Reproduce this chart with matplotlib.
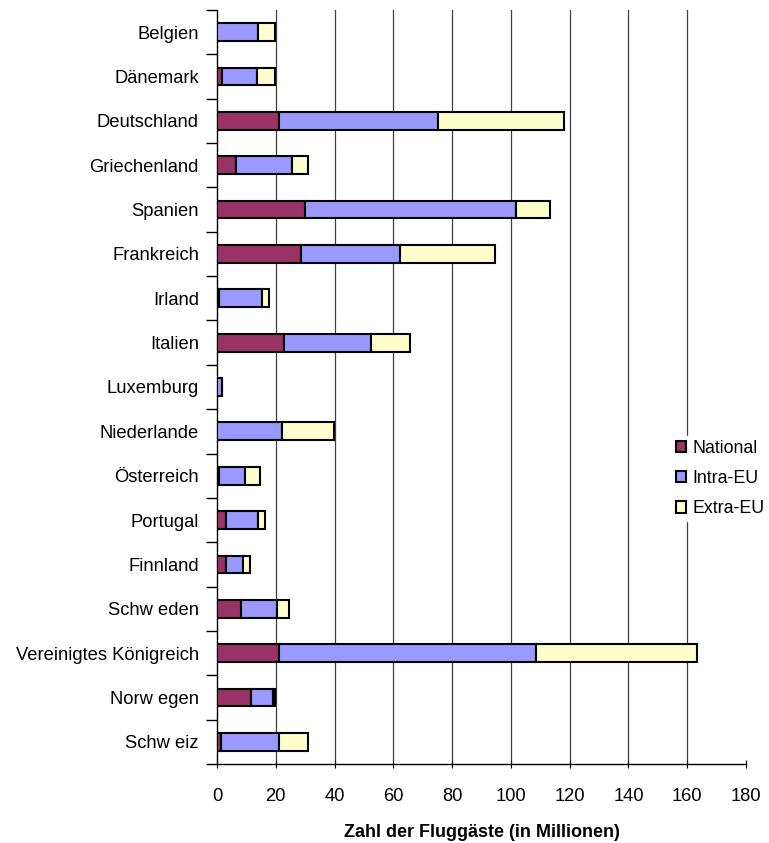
import matplotlib
matplotlib.use("Agg")
import matplotlib.pyplot as plt
import numpy as np

countries = ["Belgien", "Dänemark", "Deutschland", "Griechenland", "Spanien",
             "Frankreich", "Irland", "Italien", "Luxemburg", "Niederlande",
             "Österreich", "Portugal", "Finnland", "Schw eden",
             "Vereinigtes Königreich", "Norw egen", "Schw eiz"]
national = [0.0, 1.8, 21.1, 6.5, 29.8, 28.5, 0.7, 22.7, 0.0, 0.0,
            0.7, 3.1, 3.1, 8.3, 21.0, 11.7, 1.4]
intra_eu = [14.1, 11.7, 54.0, 19.1, 71.9, 33.7, 14.5, 29.7, 1.6, 22.1,
            8.7, 11.0, 5.8, 12.1, 87.6, 7.5, 19.6]
extra_eu = [5.8, 6.4, 43.0, 5.3, 11.7, 32.5, 2.4, 13.4, 0.2, 17.6,
            5.3, 2.4, 2.3, 4.1, 54.6, 0.7, 10.0]
series_names = ["National", "Intra-EU", "Extra-EU"]
colors = ["#993366", "#9999FF", "#FFFFCC"]
x_ticks = list(range(0, 181, 20))

plt.rcParams['font.family'] = ['Liberation Sans', 'DejaVu Sans']

fig = plt.figure(figsize=(7.69, 8.43), dpi=100)
ax = fig.add_axes([217 / 769, 1 - 764 / 843, (746 - 217) / 769, (764 - 10) / 843])

y = np.arange(len(countries))
left = np.zeros(len(countries))
for name, vals, col in zip(series_names, [national, intra_eu, extra_eu], colors):
    ax.barh(y, vals, left=left, height=0.4, color=col, edgecolor='black',
            linewidth=1.5, label=name, zorder=3)
    left += np.array(vals)

ax.set_ylim(len(countries) - 0.5, -0.5)
ax.set_xlim(0, 180)
ax.set_xticks(x_ticks)
ax.set_yticks(y)
ax.set_yticklabels(countries, fontsize=13.2)
ax.set_yticks(np.arange(len(countries) + 1) - 0.5, minor=True)
ax.tick_params(axis='y', which='major', length=0, pad=13)
ax.tick_params(axis='y', which='minor', length=8, direction='out', width=1)
ax.tick_params(axis='x', length=6, direction='inout', labelsize=13.2, pad=14)

# vertical grid lines for 20..160 only (no line at the right edge)
for xv in x_ticks[1:-1]:
    ax.axvline(xv, color='#404040', linewidth=0.9, zorder=0)
for side in ['top', 'right']:
    ax.spines[side].set_visible(False)
ax.spines['left'].set_linewidth(1)
ax.spines['bottom'].set_linewidth(1)

ax.set_xlabel("Zahl der Fluggäste (in Millionen)", fontsize=13,
              fontweight='bold', labelpad=14)

leg = ax.legend(loc='upper left', bbox_to_anchor=(672 / 769, 1 - 436 / 843),
                bbox_transform=fig.transFigure, frameon=True, fontsize=12.8,
                handlelength=0.6, handleheight=0.6, handletextpad=0.35,
                labelspacing=0.75, borderpad=0.2, borderaxespad=0)
leg.get_frame().set_edgecolor('white')
leg.get_frame().set_alpha(1)

fig.savefig("out.png", dpi=100)
